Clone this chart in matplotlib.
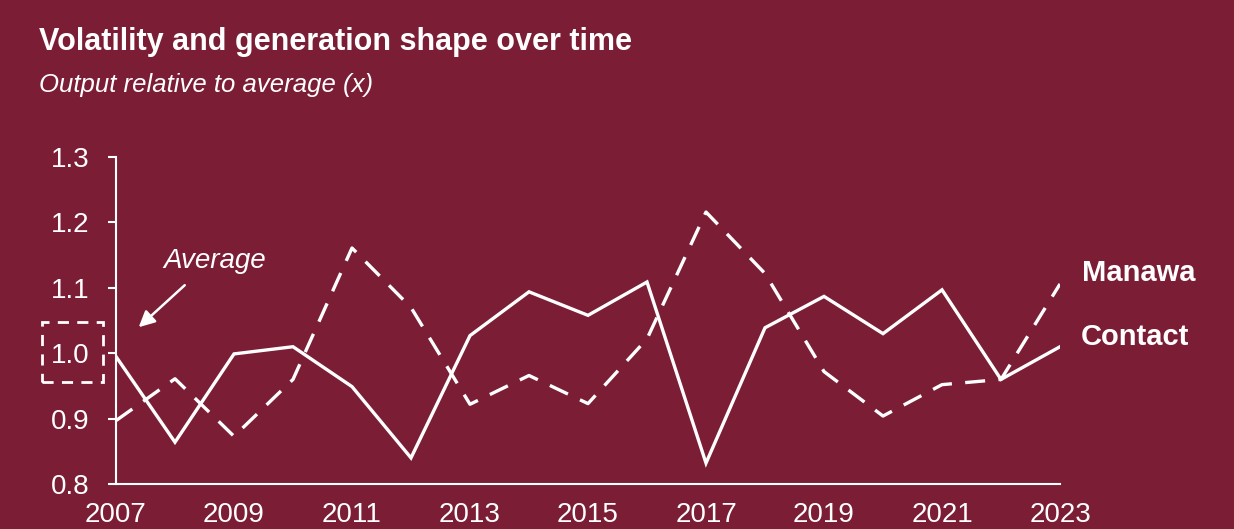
import matplotlib.pyplot as plt
from matplotlib.patches import Rectangle

years = list(range(2007, 2024))
contact = [0.995, 0.864, 0.999, 1.010, 0.949, 0.840, 1.027, 1.094, 1.058, 1.109,
           0.832, 1.039, 1.087, 1.030, 1.097, 0.960, 1.010]
manawa = [0.897, 0.961, 0.873, 0.960, 1.161, 1.070, 0.922, 0.966, 0.923, 1.022,
          1.216, 1.122, 0.972, 0.904, 0.952, 0.960, 1.106]
xticks = list(range(2007, 2024, 2))
yticks = [0.8, 0.9, 1.0, 1.1, 1.2, 1.3]

bg = '#7b1e35'
plt.rcParams['font.family'] = ['Liberation Sans', 'DejaVu Sans']

fig = plt.figure(figsize=(12.34, 5.29), dpi=100, facecolor=bg)
ax = fig.add_axes([0.094, 0.085, 0.765, 0.618])
ax.set_facecolor(bg)

ax.plot(years, contact, color='white', lw=2.4, solid_joinstyle='miter')
ax.plot(years, manawa, color='white', lw=2.4, dashes=(6, 4))

ax.set_xlim(2007, 2023)
ax.set_ylim(0.8, 1.3)
ax.set_xticks(xticks)
ax.set_yticks(yticks)
ax.set_yticklabels([f'{v:.1f}' for v in yticks])

for s in ['top', 'right']:
    ax.spines[s].set_visible(False)
for s in ['left', 'bottom']:
    ax.spines[s].set_color('white')
    ax.spines[s].set_linewidth(1.5)

ax.tick_params(axis='y', colors='white', labelsize=20, length=6, width=1.5, pad=13)
ax.tick_params(axis='x', colors='white', labelsize=20, length=0, pad=13)

# series labels
ax.text(2023.38, manawa[-1] + 0.017, 'Manawa', color='white', fontsize=21,
        fontweight='bold', va='center', ha='left')
ax.text(2023.35, contact[-1] + 0.015, 'Contact', color='white', fontsize=21,
        fontweight='bold', va='center', ha='left')

# average annotation
ax.add_patch(Rectangle((2005.75, 0.956), 1.03, 0.092, fill=False, ec='white',
                       lw=2, ls=(0, (4, 3)), clip_on=False))
ax.text(2008.68, 1.141, 'Average', color='white', fontsize=20, style='italic',
        ha='center', va='center')
ax.annotate('', xy=(2007.35, 1.037), xytext=(2008.2, 1.107),
            arrowprops=dict(arrowstyle='-|>', color='white', lw=1.8,
                            mutation_scale=24), annotation_clip=False)

fig.text(0.032, 0.92, 'Volatility and generation shape over time', color='white',
         fontsize=22, fontweight='bold', va='center', ha='left')
fig.text(0.032, 0.84, 'Output relative to average (x)', color='white',
         fontsize=18.5, style='italic', va='center', ha='left')

fig.savefig('out.png', dpi=100, facecolor=bg)
